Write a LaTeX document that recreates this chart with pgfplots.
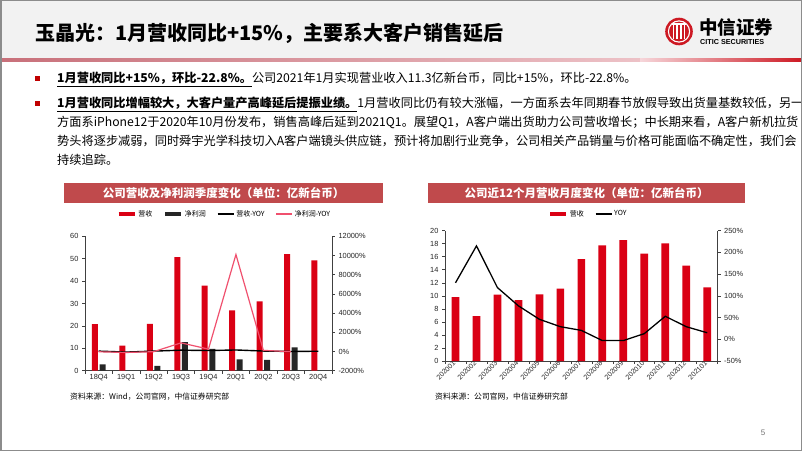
\documentclass[border=0pt]{standalone}
\usepackage{pgfplots}
\pgfplotsset{compat=1.18}
\usepackage{fontspec}
\setmainfont{Liberation Sans}
\newfontfamily\cjk{Noto Sans CJK SC}
\XeTeXlinebreaklocale "zh"
\XeTeXlinebreakskip=0pt plus 1pt minus 0.3pt
\definecolor{barred}{RGB}{218,0,20}
\definecolor{bardark}{RGB}{38,38,38}
\definecolor{yoypink}{RGB}{240,80,110}
\definecolor{banner}{RGB}{192,74,76}
\definecolor{hdrgray}{RGB}{242,242,242}
\definecolor{bordergray}{RGB}{140,140,140}
\definecolor{bulletred}{RGB}{192,0,0}
\definecolor{logored}{RGB}{205,25,35}
\definecolor{rosea}{RGB}{200,112,122}
\definecolor{roseb}{RGB}{246,214,218}
\pgfplotsset{
  slidechart/.style={scale only axis,
    axis line style={black!75, line width=0.6pt},
    tick style={black!75, line width=0.6pt},
    tick align=outside, major tick length=3pt,
    ticklabel style={font=\fontsize{7.4}{8}\selectfont, text=black!85},
    /pgf/number format/assume math mode=true,
    scaled y ticks=false, clip=false},
  slidelegend/.style={draw=none, fill=none, font=\cjk\fontsize{7}{8}\selectfont,
    /tikz/every even column/.append style={column sep=9pt}},
}
\begin{document}
\begin{tikzpicture}
\useasboundingbox (0pt,0pt) rectangle (802pt,451pt);
\begin{scope}[x=1pt,y=1pt]
\fill[white] (0,0) rectangle (802,451);
% header
\fill[hdrgray] (0,392.5) rectangle (802,451);
\shade[left color=rosea, right color=roseb] (0,389.5) rectangle (802,392.5);
\shade[left color=roseb, right color=logored] (640,389.5) rectangle (802,392.5);
\node[anchor=base west, inner sep=0, font=\cjk\bfseries\fontsize{20}{24}\selectfont] at (35,410.4) {玉晶光：1月营收同比+15\%，主要系大客户销售延后};
% logo
\fill[logored] (679,419.5) circle (13.8);
\draw[white, line width=1.1pt] (679,419.5) circle (10.6);
\foreach \dx in {-5.5,-2,2,5.5} {\draw[white, line width=1.3pt] (679+\dx,412) -- (679+\dx,427);}
\draw[white, line width=1.1pt] (672,427) -- (686,427);
\node[anchor=base west, inner sep=0, font=\cjk\bfseries\fontsize{18.5}{20}\selectfont] at (699,416.2) {中信证券};
\node[anchor=base west, inner sep=0, font=\bfseries\fontsize{7.2}{8}\selectfont] at (700,406.6) {CITIC SECURITIES};
% bullets and text
\fill[bulletred] (34.5,370.5) rectangle (39.5,375.5);
\fill[bulletred] (34.5,345.5) rectangle (39.5,350.5);
\begin{scope}[every node/.style={anchor=base west, inner sep=0, font=\cjk\fontsize{12.2}{14}\selectfont}]
\node at (57,368.4) {\textbf{\underline{1月营收同比+15\%，环比-22.8\%。}}公司2021年1月实现营业收入11.3亿新台币，同比+15\%，环比-22.8\%。};
\node at (57,343.4) {\makebox[733pt][s]{\textbf{\underline{1月营收同比增幅较大，大客户量产高峰延后提振业绩。}}1月营收同比仍有较大涨幅，一方面系去年同期春节放假导致出货量基数较低，另一}};
\node at (57,324.4) {\makebox[733pt][s]{方面系iPhone12于2020年10月份发布，销售高峰后延到2021Q1。展望Q1，A客户端出货助力公司营收增长；中长期来看，A客户新机拉货}};
\node at (57,305.4) {\makebox[733pt][s]{势头将逐步减弱，同时舜宇光学科技切入A客户端镜头供应链，预计将加剧行业竞争，公司相关产品销量与价格可能面临不确定性，我们会}};
\node at (57,286.4) {持续追踪。};
\end{scope}
% banners
\fill[banner] (64,248) rectangle (383,268);
\node[white, font=\cjk\bfseries\fontsize{11.5}{13}\selectfont] at (223.5,258) {公司营收及净利润季度变化（单位：亿新台币）};
\fill[banner] (428,248) rectangle (745,268);
\node[white, font=\cjk\bfseries\fontsize{11.5}{13}\selectfont] at (586.5,258) {公司近12个月营收月度变化（单位：亿新台币）};
% footers
\node[anchor=base west, inner sep=0, font=\cjk\fontsize{7.8}{9}\selectfont] at (70,52) {资料来源：Wind，公司官网，中信证券研究部};
\node[anchor=base west, inner sep=0, font=\cjk\fontsize{7.8}{9}\selectfont] at (435,52) {资料来源：公司官网，中信证券研究部};
\node[font=\fontsize{8}{9}\selectfont, text=black!55] at (763,18) {5};
\end{scope}

% ---------- left chart ----------
\begin{axis}[slidechart, at={(85pt,80.3pt)}, anchor=south west, width=247pt, height=134.4pt,
  xmin=-0.5, xmax=8.5, ymin=0, ymax=60, ytick={0,10,...,60},
  xtick={-0.5,0.5,...,8.5}, xticklabels={},
  extra x ticks={0,...,8},
  extra x tick labels={18Q4,19Q1,19Q2,19Q3,19Q4,20Q1,20Q2,20Q3,20Q4},
  extra x tick style={major tick length=0pt},
  axis x line*=bottom, axis y line*=left,
  ybar=1.6pt, bar width=6pt]
\addplot[fill=barred, draw=none] coordinates {(0,20.8)(1,11.2)(2,20.9)(3,50.7)(4,38.0)(5,26.9)(6,30.9)(7,52.1)(8,49.3)};
\addplot[fill=bardark, draw=none] coordinates {(0,2.8)(2,2.2)(3,12.8)(4,9.7)(5,5.1)(6,4.8)(7,10.4)};
\end{axis}
\begin{axis}[slidechart, at={(85pt,80.3pt)}, anchor=south west, width=247pt, height=134.4pt,
  xmin=-0.5, xmax=8.5, ymin=-2000, ymax=12000, ytick={-2000,0,...,12000},
  axis x line=none, axis y line*=right,
  yticklabel={\pgfmathprintnumber[fixed,precision=0,1000 sep={}]{\tick}\%},
  legend style={slidelegend, at={(0.565,1.166)}, anchor=center},
  legend columns=4,
  legend image code/.code={\draw[#1] (0pt,0pt) -- (16pt,0pt);}]
\addlegendimage{barred, line width=3.5pt}\addlegendentry{营收}
\addlegendimage{bardark, line width=3.5pt}\addlegendentry{净利润}
\addplot[black, line width=1.4pt] coordinates {(0,40)(1,-60)(2,40)(3,140)(4,100)(5,160)(6,48)(7,3)(8,30)};
\addlegendentry{营收-YOY}
\addplot[yoypink, line width=1.2pt] coordinates {(0,-30)(1,-100)(2,-20)(3,900)(4,250)(5,10100)(6,118)(7,-19)};
\addlegendentry{净利润-YOY}
\end{axis}

% ---------- right chart ----------
\begin{axis}[slidechart, at={(445pt,90pt)}, anchor=south west, width=272.7pt, height=130.3pt,
  xmin=-0.5, xmax=12.5, ymin=0, ymax=20, ytick={0,2,...,20},
  xtick={-0.5,0.5,...,12.5}, xticklabels={},
  extra x ticks={0,...,12},
  extra x tick labels={202001,202002,202003,202004,202005,202006,202007,202008,202009,202010,202011,202012,202101},
  extra x tick style={major tick length=0pt},
  xticklabel style={rotate=45, anchor=east, font=\fontsize{7}{8}\selectfont, inner sep=1.5pt},
  axis x line*=bottom, axis y line*=left,
  ybar, bar width=7.7pt]
\addplot[fill=barred, draw=none] coordinates {(0,9.82)(1,6.9)(2,10.18)(3,9.36)(4,10.23)(5,11.1)(6,15.65)(7,17.75)(8,18.57)(9,16.47)(10,18.06)(11,14.63)(12,11.3)};
\end{axis}
\begin{axis}[slidechart, at={(445pt,90pt)}, anchor=south west, width=272.7pt, height=130.3pt,
  xmin=-0.5, xmax=12.5, ymin=-50, ymax=250, ytick={-50,0,...,250},
  axis x line=none, axis y line*=right,
  yticklabel={\pgfmathprintnumber[fixed,precision=0]{\tick}\%},
  legend style={slidelegend, at={(0.526,1.128)}, anchor=center},
  legend columns=2,
  legend image code/.code={\draw[#1] (0pt,0pt) -- (16pt,0pt);}]
\addlegendimage{barred, line width=3.5pt}\addlegendentry{营收}
\addplot[black, line width=1.3pt] coordinates {(0,130)(1,215)(2,119)(3,77)(4,46)(5,29)(6,20.5)(7,-3)(8,-3)(9,13)(10,53)(11,29)(12,15)};
\addlegendentry{YOY}
\end{axis}

\draw[bordergray, line width=1.5pt] (0.75pt,0.75pt) rectangle (801.25pt,450.25pt);
\end{tikzpicture}
\end{document}
